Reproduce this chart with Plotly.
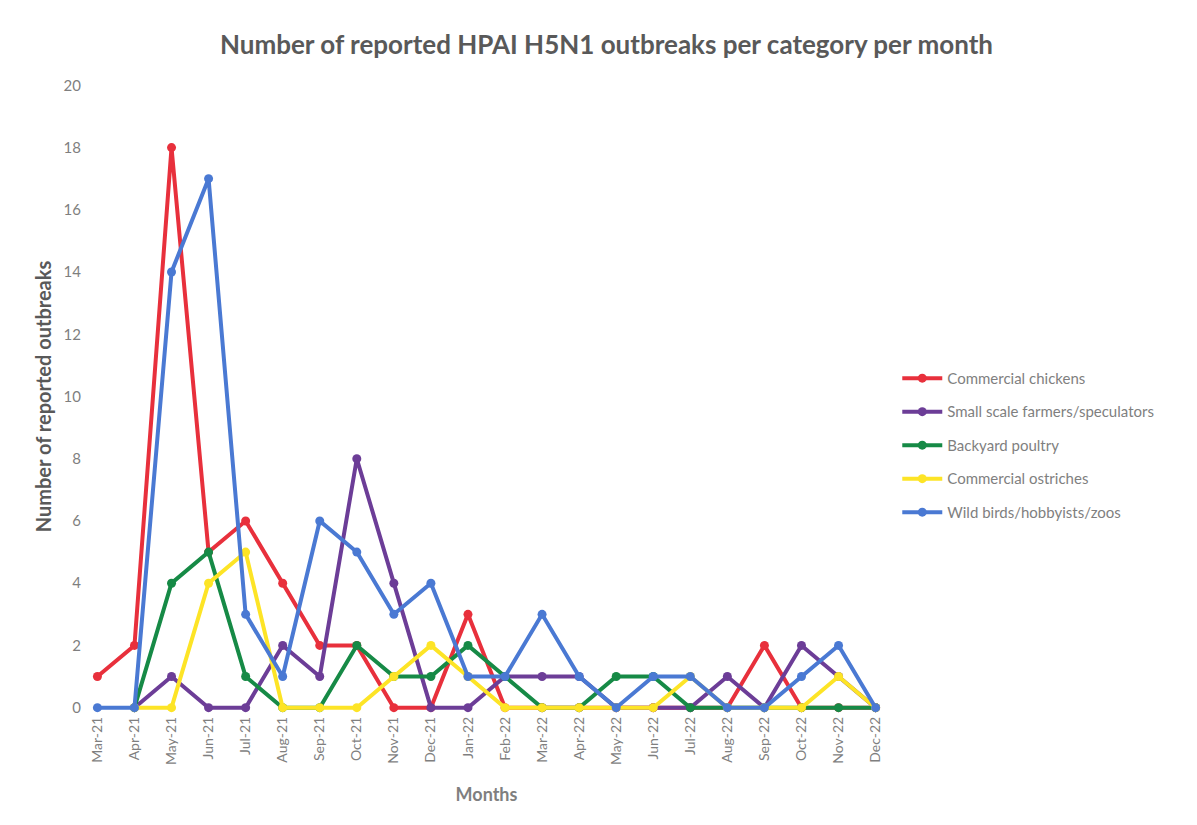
import plotly.graph_objects as go

months = ["Mar-21", "Apr-21", "May-21", "Jun-21", "Jul-21", "Aug-21", "Sep-21", "Oct-21",
          "Nov-21", "Dec-21", "Jan-22", "Feb-22", "Mar-22", "Apr-22", "May-22", "Jun-22",
          "Jul-22", "Aug-22", "Sep-22", "Oct-22", "Nov-22", "Dec-22"]

commercial_chickens = [1, 2, 18, 5, 6, 4, 2, 2, 0, 0, 3, 0, 0, 0, 0, 0, 0, 0, 2, 0, 0, 0]
small_scale = [None, 0, 1, 0, 0, 2, 1, 8, 4, 0, 0, 1, 1, 1, 0, 0, 0, 1, 0, 2, 1, 0]
backyard_poultry = [None, 0, 4, 5, 1, 0, 0, 2, 1, 1, 2, 1, 0, 0, 1, 1, 0, 0, 0, 0, 0, 0]
commercial_ostriches = [None, 0, 0, 4, 5, 0, 0, 0, 1, 2, 1, 0, 0, 0, 0, 0, 1, 0, 0, 0, 1, 0]
wild_birds = [0, 0, 14, 17, 3, 1, 6, 5, 3, 4, 1, 1, 3, 1, 0, 1, 1, 0, 0, 1, 2, 0]

series = [
    ("Commercial chickens", commercial_chickens, "#e8303c"),
    ("Small scale farmers/speculators", small_scale, "#6c3d97"),
    ("Backyard poultry", backyard_poultry, "#168a46"),
    ("Commercial ostriches", commercial_ostriches, "#fde426"),
    ("Wild birds/hobbyists/zoos", wild_birds, "#4a79d3"),
]

fig = go.Figure()
for i, (name, vals, color) in enumerate(series):
    fig.add_trace(go.Scatter(
        x=list(range(len(months))), y=vals, name=name, mode="lines+markers",
        line=dict(color=color, width=4), marker=dict(color=color, size=9),
        legendgroup=f"g{i}", connectgaps=False,
    ))

font_family = "Lato, 'Open Sans', sans-serif"
fig.update_layout(
    width=1197, height=825,
    paper_bgcolor="white", plot_bgcolor="white",
    margin=dict(l=82, r=322, t=68, b=116, autoexpand=False),
    title=dict(text="<b>Number of reported HPAI H5N1 outbreaks per category per month</b>",
               x=0.5, xanchor="center", y=0.955, yanchor="middle",
               font=dict(size=26, color="#595959", family=font_family)),
    showlegend=True,
    legend=dict(x=1.018, y=0.554, xanchor="left", yanchor="top",
                font=dict(size=15, color="#7f7f7f", family=font_family),
                tracegroupgap=11, traceorder="grouped", itemwidth=40),
    font=dict(family=font_family),
)
fig.update_xaxes(
    range=[-0.2, 21.2], tickmode="array", tickvals=list(range(len(months))), ticktext=months,
    tickangle=-90, showgrid=False, zeroline=False, showline=False, automargin=False,
    tickfont=dict(size=14, color="#7f7f7f", family=font_family), ticklabelstandoff=-4,
    title=dict(text="<b>Months</b>", font=dict(size=18, color="#7f7f7f", family=font_family), standoff=24),
)
fig.update_yaxes(
    range=[-0.3, 20.3], tickmode="array", tickvals=list(range(0, 21, 2)),
    showgrid=False, zeroline=False, showline=False, automargin=False,
    tickfont=dict(size=15, color="#7f7f7f", family=font_family), ticklabelstandoff=8,
    title=dict(text="<b>Number of reported outbreaks</b>", font=dict(size=20, color="#595959", family=font_family), standoff=6),
)
fig.write_html("out.html")
